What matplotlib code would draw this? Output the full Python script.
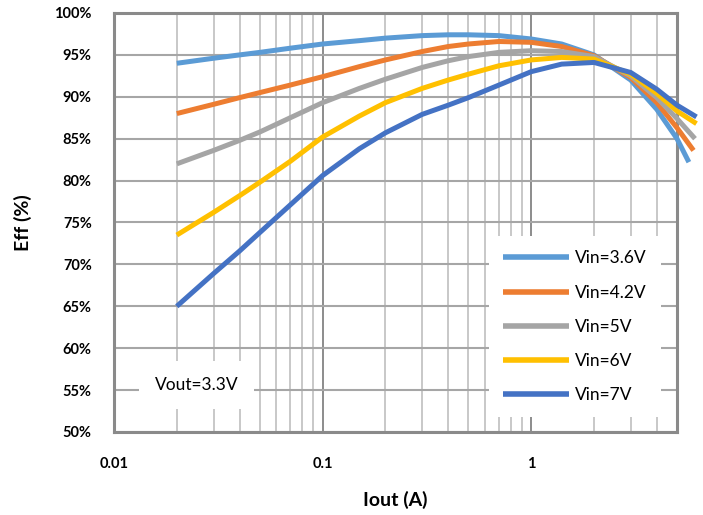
import matplotlib
matplotlib.use("Agg")
import matplotlib.pyplot as plt
from matplotlib.ticker import LogLocator, NullFormatter, FixedLocator, FixedFormatter

plt.rcParams['font.family'] = ['Lato', 'DejaVu Sans']

# 효율 측정값 (Vout = 3.3V)
IOUT = [0.02, 0.03, 0.04, 0.05, 0.07, 0.1, 0.15, 0.2, 0.3, 0.4, 0.5, 0.7,
        1.0, 1.4, 2.0, 3.0, 4.0, 5.0]
IOUT_END = [5.7, 6.0, 6.1, 6.2, 6.2]

EFF_36 = [94.0, 94.6, 95.0, 95.3, 95.8, 96.3, 96.7, 97.0, 97.3, 97.4, 97.4, 97.3,
          96.9, 96.3, 95.0, 92.0, 88.5, 85.0, 82.2]
EFF_42 = [88.0, 89.1, 89.9, 90.5, 91.4, 92.4, 93.6, 94.4, 95.4, 96.0, 96.3, 96.6,
          96.5, 96.0, 94.9, 92.3, 89.3, 86.3, 83.6]
EFF_50 = [82.0, 83.6, 84.8, 85.8, 87.5, 89.3, 91.0, 92.1, 93.5, 94.3, 94.8, 95.3,
          95.5, 95.4, 94.8, 92.5, 89.9, 87.4, 85.0]
EFF_60 = [73.5, 76.2, 78.2, 79.8, 82.3, 85.2, 87.7, 89.3, 91.0, 92.0, 92.7, 93.7,
          94.4, 94.7, 94.5, 92.7, 90.4, 88.3, 86.8]
EFF_70 = [65.0, 68.9, 71.6, 73.8, 77.1, 80.6, 83.8, 85.7, 87.9, 89.0, 89.9, 91.4,
          93.0, 93.9, 94.1, 92.9, 90.9, 89.0, 87.6]

LABELS = ["Vin=3.6V", "Vin=4.2V", "Vin=5V", "Vin=6V", "Vin=7V"]
COLORS = ["#5B9BD5", "#ED7D31", "#A5A5A5", "#FFC000", "#4472C4"]

fig = plt.figure(figsize=(7.03, 5.15), dpi=100)
ax = fig.add_axes([114 / 703, 1 - 432 / 515, 563 / 703, 419 / 515])

for eff, end, label, color in zip([EFF_36, EFF_42, EFF_50, EFF_60, EFF_70],
                                  IOUT_END, LABELS, COLORS):
    ax.plot(IOUT + [end], eff, color=color, lw=3.6, label=label,
            solid_capstyle='butt', solid_joinstyle='round', clip_on=False, zorder=3)

ax.set_xscale('log')
ax.set_xlim(0.01, 5)
ax.set_ylim(50, 100)

ax.xaxis.set_major_locator(FixedLocator([0.01, 0.1, 1]))
ax.xaxis.set_major_formatter(FixedFormatter(["0.01", "0.1", "1"]))
ax.xaxis.set_minor_locator(LogLocator(base=10, subs=range(2, 10)))
ax.xaxis.set_minor_formatter(NullFormatter())
ax.set_yticks(range(50, 101, 5))
ax.set_yticklabels([f"{v}%" for v in range(50, 101, 5)])

ax.tick_params(which='both', length=0)
ax.tick_params(axis='x', pad=18, labelsize=10.5)
ax.tick_params(axis='y', pad=16, labelsize=10.5)
for lab in ax.get_xticklabels() + ax.get_yticklabels():
    lab.set_fontweight('bold')

ax.set_axisbelow(True)
ax.grid(axis='y', which='major', color='#A6A6A6', lw=1.5)
ax.grid(axis='x', which='major', color='#8C8C8C', lw=1.4)
ax.grid(axis='x', which='minor', color='#C8C8C8', lw=1.4)

for sp in ax.spines.values():
    sp.set_color('#8A8A8A')
    sp.set_linewidth(2.2)

ax.set_xlabel("Iout (A)", fontsize=14, fontweight='bold', labelpad=14)
ax.set_ylabel("Eff (%)", fontsize=14, fontweight='bold', labelpad=16)

# 출력 전압 표기
ax.text(0.0248, 55.6, "Vout=3.3V", fontsize=12.5, ha='center', va='center',
        zorder=4, bbox=dict(boxstyle='square,pad=0.9', fc='white', ec='none'))

leg = ax.legend(loc='center', bbox_to_anchor=(0.819, 0.251), fontsize=12.5,
                handlelength=3.8, handletextpad=0.35, labelspacing=1.05,
                borderpad=0.8, frameon=True, fancybox=False, framealpha=1,
                edgecolor='none', facecolor='white')
for h in leg.get_lines():
    h.set_linewidth(4.0)

fig.savefig("out.png", dpi=100)
